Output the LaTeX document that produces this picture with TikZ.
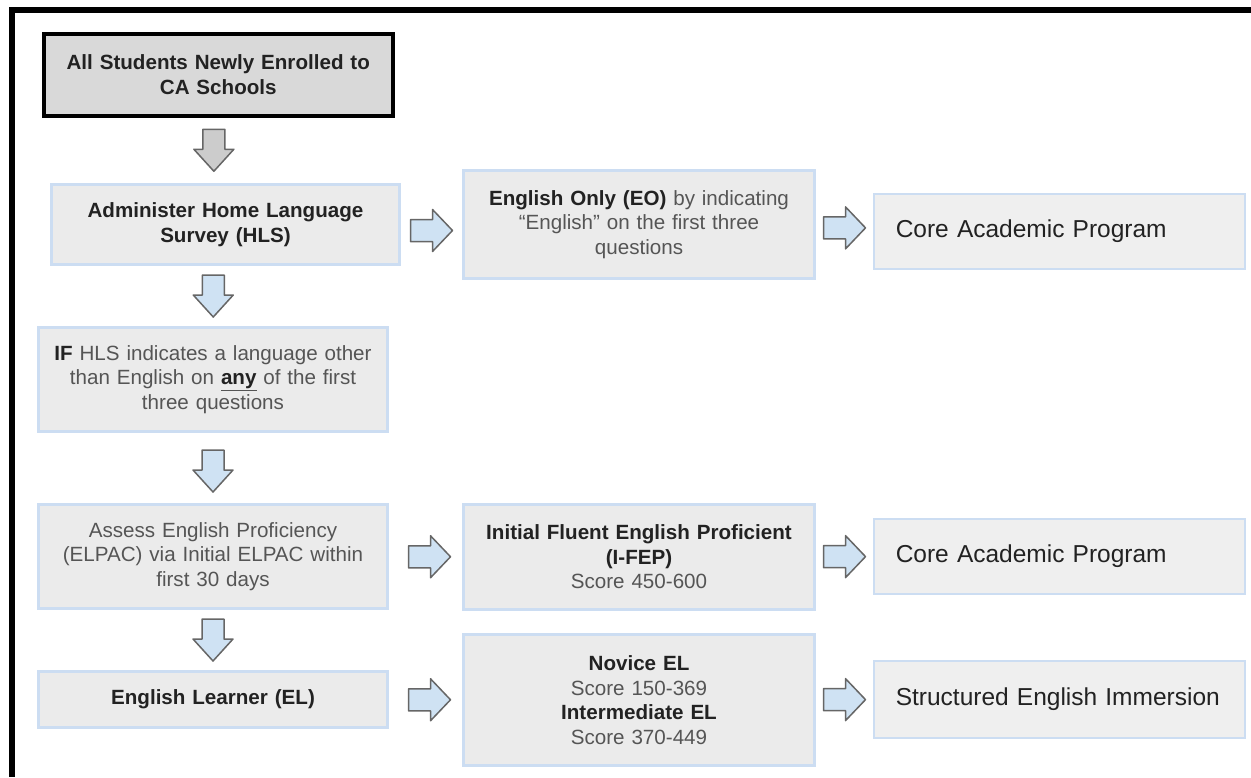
\documentclass[tikz,border=0pt]{standalone}
\usepackage{fontspec}
\setmainfont{Liberation Sans}
\usetikzlibrary{calc}
\definecolor{boxfill}{HTML}{EBEBEB}
\definecolor{corefill}{HTML}{EFEFEF}
\definecolor{topfill}{HTML}{D9D9D9}
\definecolor{bluebd}{HTML}{CCDDF2}
\definecolor{arrowfill}{HTML}{CFE2F3}
\definecolor{arrowgrayfill}{HTML}{CCCCCC}
\definecolor{arrowline}{HTML}{666666}
\definecolor{txtdark}{HTML}{222222}
\definecolor{txtgray}{HTML}{555555}
\newcommand{\bodyfont}{\fontsize{20.6}{24.5}\selectfont}
\newcommand{\corefont}{\fontsize{24.5}{28}\selectfont}
\tikzset{
  flowbox/.style={draw=bluebd, line width=3pt, fill=boxfill, align=center,
    inner sep=0pt, font=\bodyfont, text=txtgray, anchor=north west},
  topbox/.style={draw=black, line width=3.5pt, fill=topfill, align=center,
    inner sep=0pt, font=\bodyfont, text=txtdark, anchor=north west},
  corebox/.style={draw=bluebd, line width=1.5pt, fill=corefill, align=left,
    inner xsep=22pt, inner ysep=0pt, font=\corefont, text=txtdark, anchor=north west},
  arrowshape/.style={draw=arrowline, line width=1.5pt, line join=round, fill=arrowfill},
  rarrow/.pic={\path[arrowshape] (-21,-11) -- (1,-11) -- (1,-21) -- (21,0) -- (1,21) -- (1,11) -- (-21,11) -- cycle;},
  darrow/.pic={\path[arrowshape,#1] (-11,-21) -- (11,-21) -- (11,-1) -- (20,-1) -- (0,21) -- (-20,-1) -- (-11,-1) -- cycle;},
  darrow/.default={},
}
\newcommand{\bt}[1]{\textcolor{txtdark}{\textbf{#1}}}
\begin{document}
\begin{tikzpicture}[x=1pt,y=-1pt]
\useasboundingbox (0,0) rectangle (1251,777);
\fill[white] (0,0) rectangle (1251,777);
% black frame
\fill[black] (9,7) rectangle (1251,13);
\fill[black] (9,7) rectangle (15,777);

% left column
\node[topbox, minimum width=349pt, minimum height=82pt, text width=330pt] (top) at (42,32)
  {\textbf{All Students Newly Enrolled to}\\\textbf{CA Schools}};
\node[flowbox, minimum width=348pt, minimum height=80pt, text width=330pt] (hls) at (50,183)
  {\bt{Administer Home Language}\\\bt{Survey (HLS)}};
\node[flowbox, minimum width=349pt, minimum height=104pt, text width=330pt] (if) at (37,326)
  {\bt{IF} HLS indicates a language other\\than English on \underline{\bt{any}} of the first\\three questions};
\node[flowbox, minimum width=349pt, minimum height=104pt, text width=330pt] (assess) at (37,503)
  {Assess English Proficiency\\(ELPAC) via Initial ELPAC within\\first 30 days};
\node[flowbox, minimum width=349pt, minimum height=56pt, text width=330pt] (el) at (37,670)
  {\bt{English Learner (EL)}};

% middle column
\node[flowbox, minimum width=351pt, minimum height=108pt, text width=332pt] (eo) at (462,169)
  {\bt{English Only (EO)} by indicating\\“English” on the first three\\questions};
\node[flowbox, minimum width=351pt, minimum height=105pt, text width=332pt] (ifep) at (462,503)
  {\bt{Initial Fluent English Proficient}\\\bt{(I-FEP)}\\Score 450-600};
\node[flowbox, minimum width=351pt, minimum height=131pt, text width=332pt] (nov) at (462,633)
  {\bt{Novice EL}\\Score 150-369\\\bt{Intermediate EL}\\Score 370-449};

% right column
\node[corebox, minimum width=371pt, minimum height=75pt, text width=327pt] (core1) at (873,193)
  {Core Academic Program};
\node[corebox, minimum width=371pt, minimum height=75pt, text width=327pt] (core2) at (873,518)
  {Core Academic Program};
\node[corebox, minimum width=371pt, minimum height=77pt, text width=327pt] (sei) at (873,660)
  {Structured English Immersion};

% down arrows
\pic at ($(top.south)!0.5!(hls.north)+(-8,0)$) {darrow={fill=arrowgrayfill}};
\pic at ($(hls.south)!0.5!(if.north)+(-6,0)$) {darrow};
\pic at ($(if.south)!0.5!(assess.north)+(0,3)$) {darrow};
\pic at ($(assess.south)!0.5!(el.north)$) {darrow};

% right arrows
\pic at ($(hls.east)!0.5!(eo.west)+(0,6)$) {rarrow};
\pic at ($(eo.east)!0.5!(core1.west)$) {rarrow};
\pic at ($(assess.east)!0.5!(ifep.west)+(4,0)$) {rarrow};
\pic at ($(ifep.east)!0.5!(core2.west)$) {rarrow};
\pic at ($(el.east)!0.5!(nov.west)+(4,0)$) {rarrow};
\pic at ($(nov.east)!0.5!(sei.west)$) {rarrow};
\end{tikzpicture}
\end{document}
